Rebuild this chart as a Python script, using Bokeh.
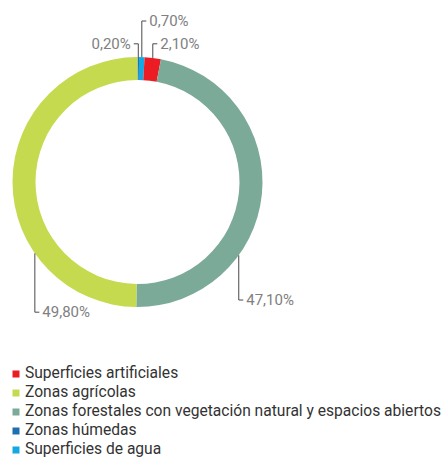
import math
from bokeh.plotting import figure
from bokeh.models import Range1d, ColumnDataSource
from bokeh.core.properties import value
from bokeh.embed import file_html
from bokeh.resources import INLINE

# ---- data ----
categories = [
    "Superficies artificiales",
    "Zonas agrícolas",
    "Zonas forestales con vegetación natural y espacios abiertos",
    "Zonas húmedas",
    "Superficies de agua",
]
shares = [2.1, 49.8, 47.1, 0.2, 0.7]
colors = ["#EC1C24", "#C5DA4E", "#7CAA98", "#1F6EAF", "#14A9E2"]
# order of slices clockwise from 12 o'clock (indices into categories)
ring_order = [3, 4, 0, 2, 1]

# ---- layout (picture pixels) ----
W, H = 446, 461


def Y(page_y):
    return H - page_y


CX, CY = 137.0, Y(181.5)
R_OUT, R_IN = 125.0, 102.0

# label layout per category: (anchor angle in degrees clockwise from top or None = slice middle,
#                             label y, side)
label_layout = {
    0: (None, 43.3, "right"),
    1: (235.2, 311.7, "right"),
    2: (125.9, 299.5, "right"),
    3: (None, 43.3, "left"),
    4: (None, 20.5, "right"),
}

p = figure(width=W, height=H, output_backend="svg", toolbar_location=None,
           x_range=Range1d(0, W), y_range=Range1d(0, H),
           x_axis_type=None, y_axis_type=None, min_border=0,
           outline_line_color=None, background_fill_color="white")
p.grid.visible = False

total = sum(shares)
starts, ends, cols, mids = [], [], [], {}
cum = 0.0
for i in ring_order:
    f0 = cum / total
    cum += shares[i]
    f1 = cum / total
    starts.append(math.pi / 2 - 2 * math.pi * f0)
    ends.append(math.pi / 2 - 2 * math.pi * f1)
    cols.append(colors[i])
    mids[i] = (f0 + f1) / 2 * 360.0

ring = ColumnDataSource(dict(x=[CX] * len(ring_order), y=[CY] * len(ring_order),
                             start=starts, end=ends, color=cols))
p.annular_wedge(x="x", y="y", inner_radius=R_IN, outer_radius=R_OUT,
                start_angle="start", end_angle="end", direction="clock",
                fill_color="color", line_color=None, source=ring)

# leaders and value labels
lxs, lys = [], []
rtx, rty, rtt = [], [], []
ltx, lty, ltt = [], [], []
TICK, GAP = 4.5, 3.0
for i in range(len(categories)):
    ang, lab_y, side = label_layout[i]
    a = mids[i] if ang is None else ang
    rad = math.radians(a)
    ax = CX + R_OUT * math.sin(rad)
    ay = CY + R_OUT * math.cos(rad)
    ty = Y(lab_y)
    txt = f"{shares[i]:.2f}".replace(".", ",") + "%"
    if side == "right":
        xs = [ax, ax, ax + TICK]
        rtx.append(ax + TICK + GAP); rty.append(ty); rtt.append(txt)
    else:
        xs = [ax, ax, ax - TICK]
        ltx.append(ax - TICK - GAP); lty.append(ty); ltt.append(txt)
    lxs.append(xs)
    lys.append([ay, ty, ty])

p.multi_line(xs=lxs, ys=lys, line_color="#4a4a4a", line_width=1)
p.text(x=rtx, y=rty, text=rtt, text_align="left", text_baseline="middle",
       text_font=value("Roboto"), text_font_size="15px", text_color="#808080")
p.text(x=ltx, y=lty, text=ltt, text_align="right", text_baseline="middle",
       text_font=value("Roboto"), text_font_size="15px", text_color="#808080")

# legend (manual)
LEG_X, LEG_Y0, LEG_DY = 15.5, 373.5, 19.0
leg_y = [Y(LEG_Y0 + k * LEG_DY) for k in range(len(categories))]
p.rect(x=[LEG_X] * len(categories), y=leg_y, width=7, height=7,
       width_units="screen", height_units="screen", fill_color=colors, line_color=None)
p.text(x=[24.5] * len(categories), y=[v + 1.5 for v in leg_y], text=categories,
       text_align="left", text_baseline="middle",
       text_font=value("Roboto"), text_font_size="15.6px", text_color="#333333")

open("out.html", "w").write(file_html(p, INLINE))
